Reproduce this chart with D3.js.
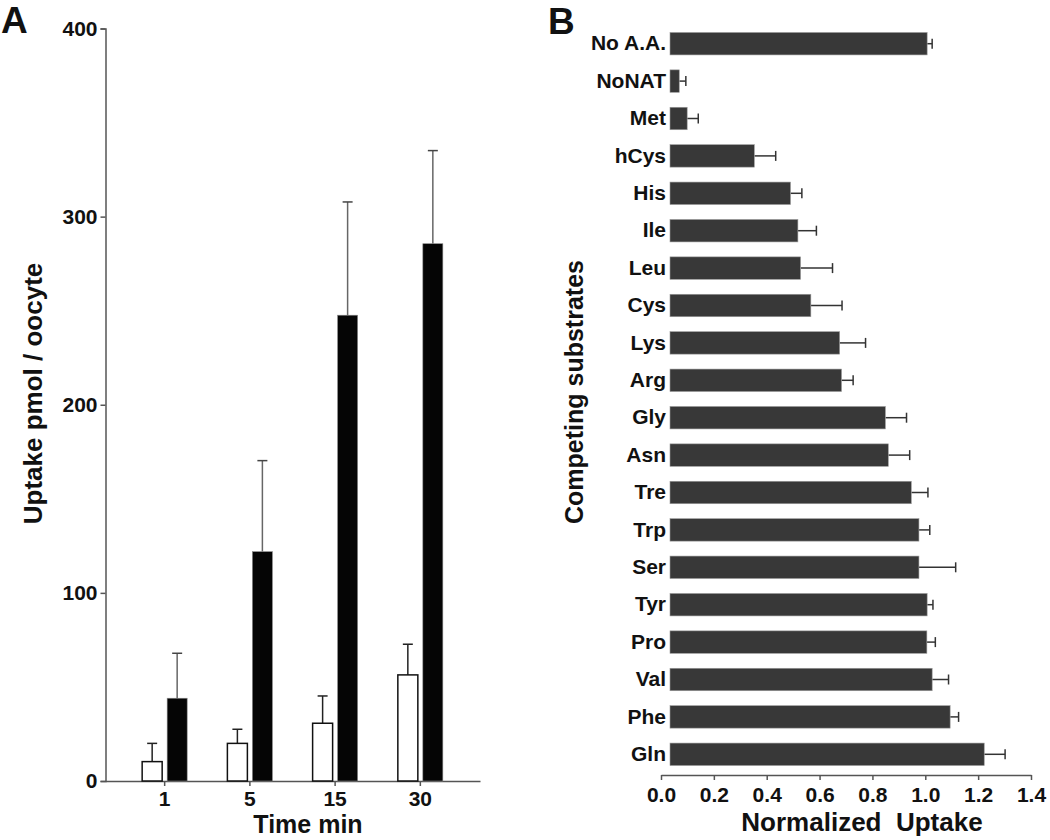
<!DOCTYPE html>
<html>
<head>
<meta charset="utf-8">
<script src="https://cdn.jsdelivr.net/npm/d3@7"></script>
<style>
  body { margin: 0; background: #fff; }
  svg text { font-family: 'Liberation Sans', Arial, sans-serif; font-weight: bold; fill: #111; }
</style>
</head>
<body>
<div id="plot"></div>
<script>
// panel A - uptake time course
var timeLabels = ['1', '5', '15', '30']
var ctrlUptake = [10.3, 20.0, 30.7, 56.4]
var ctrlErr = [9.7, 7.5, 14.5, 16.3]
var natUptake = [44.0, 121.9, 247.6, 285.6]
var natErr = [23.9, 48.4, 60.2, 49.5]
var uptakeTicks = [0, 100, 200, 300, 400]

// panel B - competition
var substrates = ['No A.A.', 'NoNAT', 'Met', 'hCys', 'His', 'Ile', 'Leu', 'Cys', 'Lys', 'Arg',
  'Gly', 'Asn', 'Tre', 'Trp', 'Ser', 'Tyr', 'Pro', 'Val', 'Phe', 'Gln']
var normUptake = [1.007, 0.069, 0.099, 0.353, 0.49, 0.518, 0.528, 0.567, 0.676, 0.683,
  0.849, 0.86, 0.947, 0.976, 0.976, 1.007, 1.006, 1.026, 1.094, 1.223]
var normErr = [0.019, 0.025, 0.042, 0.081, 0.043, 0.07, 0.121, 0.118, 0.098, 0.044,
  0.08, 0.081, 0.063, 0.041, 0.139, 0.022, 0.032, 0.062, 0.032, 0.079]
var normTicks = [0, 0.2, 0.4, 0.6, 0.8, 1.0, 1.2, 1.4]

var width = 1050
var height = 840

var svg = d3
  .select('#plot')
  .append('svg')
  .attr('width', width)
  .attr('height', height)

// ---------- panel A ----------
var yA = d3.scaleLinear().domain([0, 400]).range([781, 28.5])
var xA = d3
  .scaleBand()
  .domain(timeLabels)
  .range([105, 480])
  .paddingInner(0)
  .paddingOuter(0.2)
var xInner = d3
  .scaleBand()
  .domain(['ctrl', 'nat'])
  .range([xA.bandwidth() / 2 - 22.5, xA.bandwidth() / 2 + 22.5])
  .paddingInner(0.2)

var dataA = timeLabels.map(function(t, i) {
  return [
    { t: t, k: 'ctrl', v: ctrlUptake[i], e: ctrlErr[i] },
    { t: t, k: 'nat', v: natUptake[i], e: natErr[i] }
  ]
})

var axA = svg
  .append('g')
  .attr('transform', 'translate(105.5,0)')
  .call(d3.axisLeft(yA).tickValues(uptakeTicks).tickSize(5).tickPadding(3))
axA.selectAll('path, line').attr('stroke', '#555').attr('stroke-width', 1.5)
axA.selectAll('text').style('font-size', '21px')

var axAx = svg
  .append('g')
  .attr('transform', 'translate(0,' + yA(0) + ')')
  .call(d3.axisBottom(xA).tickSize(5).tickPadding(5).tickSizeOuter(0))
axAx.selectAll('path, line').attr('stroke', '#555').attr('stroke-width', 1.5)
axAx.selectAll('text').style('font-size', '21px')

var groups = svg
  .append('g')
  .selectAll('g')
  .data(dataA)
  .enter()
  .append('g')
  .attr('transform', function(d) {
    return 'translate(' + xA(d[0].t) + ',0)'
  })

var barsA = groups
  .selectAll('g')
  .data(function(d) {
    return d
  })
  .enter()
  .append('g')

barsA
  .append('line')
  .attr('x1', function(d) {
    return xInner(d.k) + xInner.bandwidth() / 2
  })
  .attr('x2', function(d) {
    return xInner(d.k) + xInner.bandwidth() / 2
  })
  .attr('y1', function(d) {
    return yA(d.v)
  })
  .attr('y2', function(d) {
    return yA(d.v + d.e)
  })
  .attr('stroke', function(d) {
    return d.k === 'ctrl' ? '#222' : '#666'
  })
  .attr('stroke-width', 1.5)

barsA
  .append('line')
  .attr('x1', function(d) {
    return xInner(d.k) + xInner.bandwidth() / 2 - 5
  })
  .attr('x2', function(d) {
    return xInner(d.k) + xInner.bandwidth() / 2 + 5
  })
  .attr('y1', function(d) {
    return yA(d.v + d.e)
  })
  .attr('y2', function(d) {
    return yA(d.v + d.e)
  })
  .attr('stroke', function(d) {
    return d.k === 'ctrl' ? '#222' : '#444'
  })
  .attr('stroke-width', 1.5)

barsA
  .append('rect')
  .attr('x', function(d) {
    return xInner(d.k)
  })
  .attr('width', xInner.bandwidth())
  .attr('y', function(d) {
    return yA(d.v)
  })
  .attr('height', function(d) {
    return yA(0) - yA(d.v)
  })
  .attr('fill', function(d) {
    return d.k === 'ctrl' ? '#fff' : '#050505'
  })
  .attr('stroke', function(d) {
    return d.k === 'ctrl' ? '#111' : '#888'
  })
  .attr('stroke-width', function(d) {
    return d.k === 'ctrl' ? 1.5 : 0.6
  })

svg
  .append('text')
  .attr('transform', 'translate(42,393.5) rotate(-90)')
  .attr('text-anchor', 'middle')
  .style('font-size', '26px')
  .text('Uptake pmol / oocyte')

svg
  .append('text')
  .attr('x', 308)
  .attr('y', 833)
  .attr('text-anchor', 'middle')
  .style('font-size', '25px')
  .text('Time min')

svg
  .append('text')
  .attr('x', 1)
  .attr('y', 33)
  .style('font-size', '37px')
  .text('A')

// ---------- panel B ----------
var xB = d3.scaleLinear().domain([0, 1.4]).range([661, 1031])
var yB = d3
  .scaleBand()
  .domain(substrates)
  .range([25, 773])
  .paddingInner(0.4)
  .paddingOuter(0.2)
var barInset = 9

var dataB = substrates.map(function(s, i) {
  return { s: s, v: normUptake[i], e: normErr[i] }
})

var axBx = svg
  .append('g')
  .attr('transform', 'translate(0,775)')
  .call(
    d3
      .axisBottom(xB)
      .tickValues(normTicks)
      .tickFormat(d3.format('.1f'))
      .tickSize(5)
      .tickPadding(7)
      .tickSizeOuter(0)
  )
axBx.selectAll('path, line').attr('stroke', '#555').attr('stroke-width', 1.5)
axBx.selectAll('text').style('font-size', '21px')

var axBy = svg
  .append('g')
  .attr('transform', 'translate(670,0)')
  .call(d3.axisLeft(yB).tickSize(0).tickPadding(4))
axBy.select('.domain').remove()
axBy.selectAll('text').style('font-size', '21px')

var rowsB = svg
  .append('g')
  .selectAll('g')
  .data(dataB)
  .enter()
  .append('g')

rowsB
  .append('line')
  .attr('x1', function(d) {
    return xB(d.v)
  })
  .attr('x2', function(d) {
    return xB(d.v + d.e)
  })
  .attr('y1', function(d) {
    return yB(d.s) + yB.bandwidth() / 2
  })
  .attr('y2', function(d) {
    return yB(d.s) + yB.bandwidth() / 2
  })
  .attr('stroke', '#333')
  .attr('stroke-width', 1.5)

rowsB
  .append('line')
  .attr('x1', function(d) {
    return xB(d.v + d.e)
  })
  .attr('x2', function(d) {
    return xB(d.v + d.e)
  })
  .attr('y1', function(d) {
    return yB(d.s) + yB.bandwidth() / 2 - 5
  })
  .attr('y2', function(d) {
    return yB(d.s) + yB.bandwidth() / 2 + 5
  })
  .attr('stroke', '#333')
  .attr('stroke-width', 1.5)

rowsB
  .append('rect')
  .attr('x', xB(0) + barInset)
  .attr('y', function(d) {
    return yB(d.s)
  })
  .attr('width', function(d) {
    return xB(d.v) - xB(0) - barInset
  })
  .attr('height', yB.bandwidth())
  .attr('fill', '#383838')
  .attr('stroke', '#999')
  .attr('stroke-width', 0.6)

svg
  .append('text')
  .attr('x', 862)
  .attr('y', 831)
  .attr('text-anchor', 'middle')
  .attr('xml:space', 'preserve')
  .style('font-size', '26px')
  .style('white-space', 'pre')
  .text('Normalized  Uptake')

svg
  .append('text')
  .attr('transform', 'translate(583,392) rotate(-90)')
  .attr('text-anchor', 'middle')
  .style('font-size', '25px')
  .text('Competing substrates')

svg
  .append('text')
  .attr('x', 548)
  .attr('y', 34)
  .style('font-size', '37px')
  .text('B')
</script>
</body>
</html>
